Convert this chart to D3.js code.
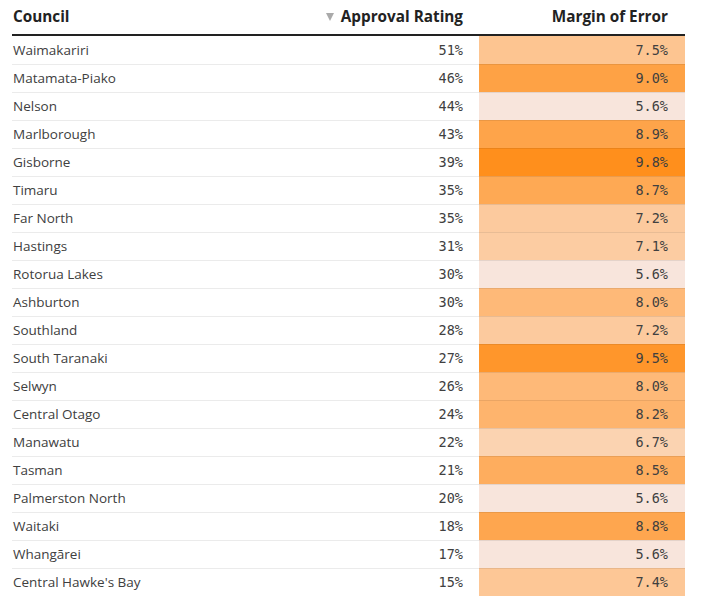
<!DOCTYPE html>
<html>
<head>
<meta charset="utf-8">
<script src="https://cdn.jsdelivr.net/npm/d3@7"></script>
<style>
  body { margin: 0; background: #fff; }
  text { font-family: "Open Sans", "Noto Sans", sans-serif; }
</style>
</head>
<body>
<div id="table"></div>
<script>
// data
var councils = ["Waimakariri", "Matamata-Piako", "Nelson", "Marlborough", "Gisborne",
  "Timaru", "Far North", "Hastings", "Rotorua Lakes", "Ashburton", "Southland",
  "South Taranaki", "Selwyn", "Central Otago", "Manawatu", "Tasman",
  "Palmerston North", "Waitaki", "Whangārei", "Central Hawke's Bay"];
var approval = [51, 46, 44, 43, 39, 35, 35, 31, 30, 30, 28, 27, 26, 24, 22, 21, 20, 18, 17, 15];
var marginOfError = [7.5, 9.0, 5.6, 8.9, 9.8, 8.7, 7.2, 7.1, 5.6, 8.0, 7.2, 9.5, 8.0, 8.2, 6.7, 8.5, 5.6, 8.8, 5.6, 7.4];
var headers = ["Council", "Approval Rating", "Margin of Error"];

var W = 706, H = 614;
var left = 12, right = 685, headerBottom = 36, rowH = 28;
var cellLeft = 479;

var svg = d3.select("#table").append("svg").attr("width", W).attr("height", H);

var y = d3.scaleBand()
  .domain(d3.range(councils.length))
  .range([headerBottom, headerBottom + rowH * councils.length]);

var color = d3.scaleLinear()
  .domain([5.6, 7.4, 9.8])
  .range(["#f8e5dc", "#fdc796", "#ff8f1c"]);

// heat cells
svg.append("g")
  .selectAll("rect")
  .data(marginOfError)
  .enter()
  .append("rect")
  .attr("x", cellLeft)
  .attr("y", (d, i) => y(i))
  .attr("width", right - cellLeft)
  .attr("height", y.bandwidth())
  .attr("fill", (d) => color(d));

// row separators
svg.append("g")
  .selectAll("line")
  .data(d3.range(1, councils.length))
  .enter()
  .append("line")
  .attr("x1", left)
  .attr("x2", right)
  .attr("y1", (d) => y(d) + 0.5)
  .attr("y2", (d) => y(d) + 0.5)
  .attr("stroke", "#000")
  .attr("stroke-opacity", 0.08);

// header
var head = svg.append("g").attr("font-weight", "bold").attr("font-size", 15.3).attr("fill", "#222");
head.append("text").attr("x", 13).attr("y", 22).text(headers[0]);
head.append("text").attr("x", 463).attr("y", 22).attr("text-anchor", "end").text(headers[1]);
head.append("text").attr("x", 668).attr("y", 22).attr("text-anchor", "end").text(headers[2]);
svg.append("path").attr("d", "M326,13L334,13L330,21Z").attr("fill", "#aaa");
svg.append("line")
  .attr("x1", left).attr("x2", right)
  .attr("y1", headerBottom - 1).attr("y2", headerBottom - 1)
  .attr("stroke", "#222").attr("stroke-width", 2);

// rows
var rows = svg.append("g").attr("font-size", 13.5).attr("fill", "#404040");
rows.selectAll(".name")
  .data(councils)
  .enter()
  .append("text")
  .attr("class", "name")
  .attr("x", 13)
  .attr("y", (d, i) => y(i) + y.bandwidth() / 2)
  .attr("dy", "0.35em")
  .text((d) => d);

rows.selectAll(".approval")
  .data(approval)
  .enter()
  .append("text")
  .attr("class", "approval")
  .attr("x", 463)
  .attr("y", (d, i) => y(i) + y.bandwidth() / 2)
  .attr("dy", "0.35em")
  .attr("text-anchor", "end")
  .style("font-family", "'DejaVu Sans Mono', monospace")
  .attr("font-size", 13.5)
  .text((d) => d + "%");

rows.selectAll(".moe")
  .data(marginOfError)
  .enter()
  .append("text")
  .attr("class", "moe")
  .attr("x", 668)
  .attr("y", (d, i) => y(i) + y.bandwidth() / 2)
  .attr("dy", "0.35em")
  .attr("text-anchor", "end")
  .style("font-family", "'DejaVu Sans Mono', monospace")
  .attr("font-size", 13.5)
  .text((d) => d.toFixed(1) + "%");
</script>
</body>
</html>
